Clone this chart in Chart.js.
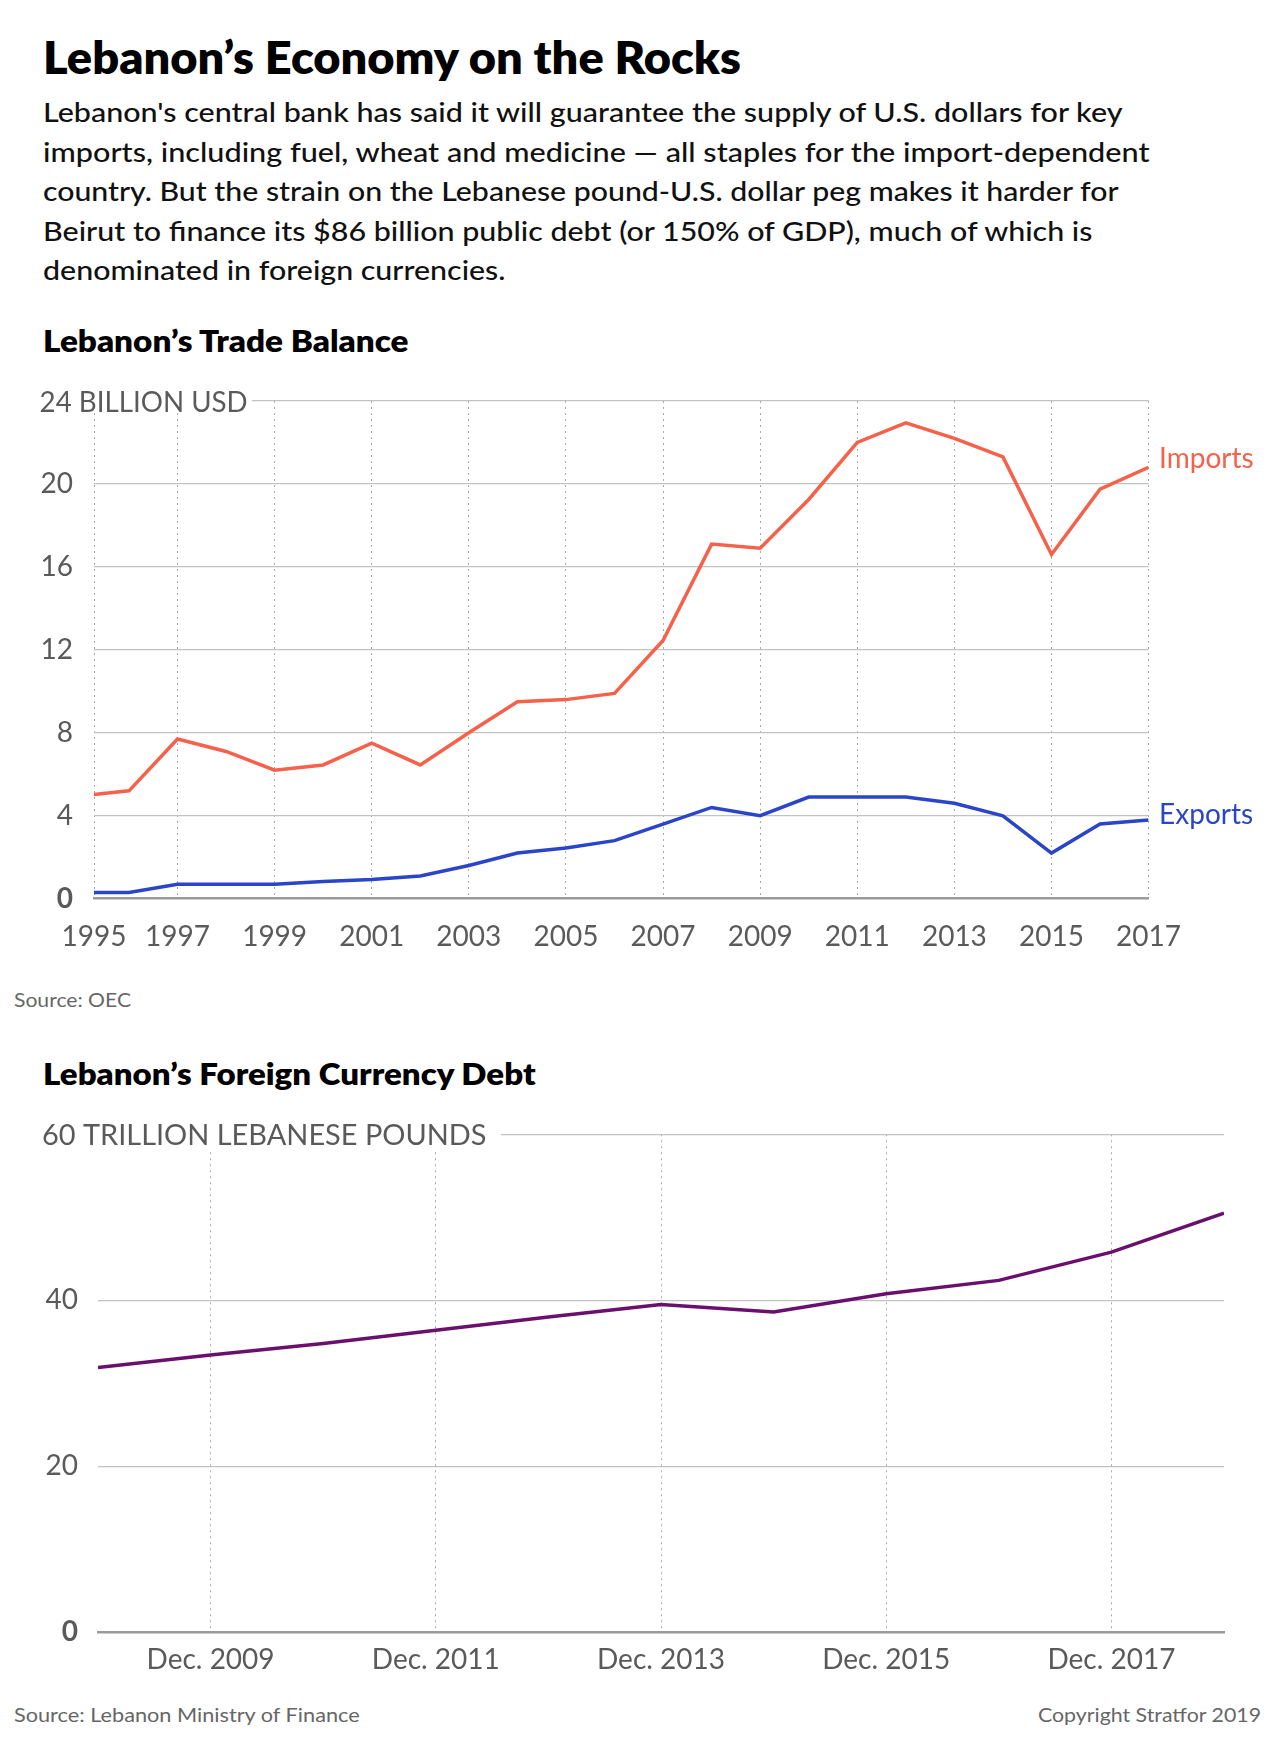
<!DOCTYPE html>
<html><head><meta charset="utf-8">
<script src="https://cdn.jsdelivr.net/npm/chart.js@4.4.1/dist/chart.umd.min.js"></script>
<style>
html,body{margin:0;padding:0;background:#fff;}
body{width:1280px;height:1753px;position:relative;overflow:hidden;font-family:Lato,'Open Sans',sans-serif;}
.t{position:absolute;white-space:nowrap;line-height:1;transform-origin:0 50%;}
.title{font-size:46px;font-weight:800;color:#000;}
.body{font-size:27px;font-weight:500;color:#111;}
.sub{font-size:30px;font-weight:800;color:#000;}
.src{font-size:19px;font-weight:400;color:#666;}
canvas{position:absolute;left:0;}
</style></head>
<body>
<div class="t title" data-x="42.5" data-b="75" data-w="698">Lebanon’s Economy on the Rocks</div>
<div class="t body" data-x="42.5" data-b="122" data-w="1079.5">Lebanon's central bank has said it will guarantee the supply of U.S. dollars for key</div>
<div class="t body" data-x="42.5" data-b="161.5" data-w="1106.5">imports, including fuel, wheat and medicine — all staples for the import-dependent</div>
<div class="t body" data-x="42.5" data-b="201" data-w="1075.5">country. But the strain on the Lebanese pound-U.S. dollar peg makes it harder for</div>
<div class="t body" data-x="42.5" data-b="240.5" data-w="1049.5">Beirut to finance its $86 billion public debt (or 150% of GDP), much of which is</div>
<div class="t body" data-x="42.5" data-b="280" data-w="462.5">denominated in foreign currencies.</div>
<div class="t sub" data-x="42.5" data-b="351.7" data-w="365.5">Lebanon’s Trade Balance</div>
<canvas id="c1" width="1280" height="600" style="top:380px"></canvas>
<div class="t src" data-x="14.3" data-b="1007" data-w="117">Source: OEC</div>
<div class="t sub" data-x="42.9" data-b="1085" data-w="492.6">Lebanon’s Foreign Currency Debt</div>
<canvas id="c2" width="1280" height="580" style="top:1110px"></canvas>
<div class="t src" data-x="14.3" data-b="1721.5" data-w="345.7">Source: Lebanon Ministry of Finance</div>
<div class="t src" data-x="1038" data-b="1721.5" data-w="223">Copyright Stratfor 2019</div>
<script>
// ---------- DATA ----------
const tradeYears = [1995,1996,1997,1998,1999,2000,2001,2002,2003,2004,2005,2006,2007,2008,2009,2010,2011,2012,2013,2014,2015,2016,2017];
const importsBnUSD = [4.95,5.2,7.7,7.1,6.2,6.45,7.5,6.45,8.0,9.5,9.6,9.9,12.45,17.1,16.9,19.25,22.0,22.95,22.2,21.3,16.6,19.75,20.8];
const exportsBnUSD = [0.3,0.3,0.7,0.7,0.7,0.83,0.93,1.1,1.6,2.2,2.45,2.8,3.6,4.4,4.0,4.9,4.9,4.9,4.6,4.0,2.2,3.6,3.8];
const tradeXTicks = [1995,1997,1999,2001,2003,2005,2007,2009,2011,2013,2015,2017];
const tradeYTicks = [0,4,8,12,16,20,24];
const tradeTopLabel = '24 BILLION USD';
const seriesNames = ['Imports','Exports'];

const debtYears = [2008,2009,2010,2011,2012,2013,2014,2015,2016,2017,2018];
const debtTrillionLBP = [31.9,33.4,34.8,36.4,38.0,39.5,38.6,40.8,42.4,45.8,50.5];
const debtXTicks = [2009,2011,2013,2015,2017];
const debtXTickLabels = ['Dec. 2009','Dec. 2011','Dec. 2013','Dec. 2015','Dec. 2017'];
const debtYTicks = [0,20,40,60];
const debtTopLabel = '60 TRILLION LEBANESE POUNDS';

// ---------- HTML text placement ----------
document.querySelectorAll('.t').forEach(el => {
  const fs = parseFloat(getComputedStyle(el).fontSize);
  el.style.left = el.dataset.x + 'px';
  el.style.top = (parseFloat(el.dataset.b) - 0.887 * fs) + 'px';
  const w = el.getBoundingClientRect().width;
  const target = parseFloat(el.dataset.w);
  if (w > 0 && target) el.style.transform = 'scaleX(' + (target / w) + ')';
});

// ---------- Chart.js ----------
Chart.defaults.font.family = 'Lato, "Open Sans", sans-serif';
Chart.defaults.font.size = 28;
Chart.defaults.color = '#5a5a5a';

const topLabelPlugin = {
  id: 'topLabel',
  afterDraw(chart, args, o) {
    if (!o || !o.text) return;
    const {ctx} = chart; const y = chart.scales.y;
    const py = y.getPixelForValue(y.max);
    ctx.save();
    ctx.font = '28px Lato, "Open Sans", sans-serif';
    const w = ctx.measureText(o.text).width;
    ctx.fillStyle = '#fff';
    ctx.fillRect(o.x - 3, py - 18, o.boxEnd - o.x + 3, 18 + o.below);
    ctx.fillStyle = '#5a5a5a';
    ctx.textBaseline = 'alphabetic';
    ctx.textAlign = 'left';
    ctx.translate(o.x, py + 10.5);
    ctx.scale(o.width / w, 1);
    ctx.fillText(o.text, 0, 0);
    ctx.restore();
  }
};
const endLabelPlugin = {
  id: 'endLabel',
  afterDatasetsDraw(chart, args, o) {
    if (!o || !o.show) return;
    const {ctx} = chart;
    chart.data.datasets.forEach((ds, i) => {
      const meta = chart.getDatasetMeta(i);
      const last = meta.data[meta.data.length - 1];
      ctx.save();
      ctx.font = '28px Lato, "Open Sans", sans-serif';
      ctx.fillStyle = ds.borderColor;
      ctx.textAlign = 'left';
      ctx.textBaseline = 'middle';
      ctx.fillText(ds.label, chart.chartArea.right + 10.5, last.y + o.dy[i]);
      ctx.restore();
    });
  }
};

const yTickFont = ctx => ({size: 28, weight: (ctx.tick && ctx.tick.value === 0) ? 'bold' : 'normal'});
const yFit = w => s => { s.width = w; s.paddingTop = 0; s.paddingBottom = 0; };

new Chart(document.getElementById('c1'), {
  type: 'line',
  data: {
    datasets: [
      {label: seriesNames[0], data: tradeYears.map((x, i) => ({x, y: importsBnUSD[i]})), borderColor: '#f5614a', borderWidth: 3.5, pointRadius: 0, tension: 0},
      {label: seriesNames[1], data: tradeYears.map((x, i) => ({x, y: exportsBnUSD[i]})), borderColor: '#2b45c8', borderWidth: 3.5, pointRadius: 0, tension: 0}
    ]
  },
  options: {
    responsive: false, animation: false, devicePixelRatio: 1,
    layout: {autoPadding: false, padding: {top: 21, right: 131.4, left: 0, bottom: 0}},
    plugins: {legend: {display: false}, tooltip: {enabled: false},
      topLabel: {text: tradeTopLabel, x: 39.6, width: 208, boxEnd: 252, below: 12},
      endLabel: {show: true, dy: [-8, -5]}},
    scales: {
      x: {
        type: 'linear', min: 1995.28, max: 2017,
        afterBuildTicks: s => { s.ticks = tradeXTicks.map((v, i) => ({value: i === 0 ? s.min : v})); },
        afterFit: s => { s.height = 81.3; },
        ticks: {callback: (v, i) => String(tradeXTicks[i]), padding: 21, maxRotation: 0, autoSkip: false, font: {size: 28}},
        grid: {color: '#a8a8a8', lineWidth: 1, drawTicks: false},
        border: {display: true, color: '#9a9a9a', width: 2.5, dash: [2, 4]}
      },
      y: {
        min: 0, max: 24,
        afterBuildTicks: s => { s.ticks = tradeYTicks.map(v => ({value: v})); },
        afterFit: yFit(94),
        ticks: {callback: v => (v === 24 ? '' : String(v)), padding: 21, font: yTickFont},
        grid: {color: c => (c.tick && c.tick.value === 0 ? 'rgba(0,0,0,0)' : '#c2c2c2'), lineWidth: 1.3, drawTicks: false},
        border: {display: false}
      }
    }
  },
  plugins: [topLabelPlugin, endLabelPlugin]
});

new Chart(document.getElementById('c2'), {
  type: 'line',
  data: {
    datasets: [
      {label: 'Foreign currency debt', data: debtYears.map((x, i) => ({x, y: debtTrillionLBP[i]})), borderColor: '#6b0f6f', borderWidth: 3.5, pointRadius: 0, tension: 0}
    ]
  },
  options: {
    responsive: false, animation: false, devicePixelRatio: 1,
    layout: {autoPadding: false, padding: {top: 24.3, right: 56, left: 0, bottom: 0}},
    plugins: {legend: {display: false}, tooltip: {enabled: false},
      topLabel: {text: debtTopLabel, x: 42, width: 444.5, boxEnd: 501, below: 17},
      endLabel: {show: false}},
    scales: {
      x: {
        type: 'linear', min: 2008, max: 2018,
        afterBuildTicks: s => { s.ticks = debtXTicks.map(v => ({value: v})); },
        afterFit: s => { s.height = 57.7; },
        ticks: {callback: (v, i) => debtXTickLabels[i], padding: 11, maxRotation: 0, autoSkip: false, font: {size: 28}},
        grid: {color: '#a8a8a8', lineWidth: 1, drawTicks: false},
        border: {display: true, color: '#9a9a9a', width: 2.5, dash: [2, 4]}
      },
      y: {
        min: 0, max: 60,
        afterBuildTicks: s => { s.ticks = debtYTicks.map(v => ({value: v})); },
        afterFit: yFit(98),
        ticks: {callback: v => (v === 60 ? '' : String(v)), padding: 20, font: yTickFont},
        grid: {color: c => (c.tick && c.tick.value === 0 ? 'rgba(0,0,0,0)' : '#c2c2c2'), lineWidth: 1.3, drawTicks: false},
        border: {display: false}
      }
    }
  },
  plugins: [topLabelPlugin, endLabelPlugin]
});
</script>
</body></html>
